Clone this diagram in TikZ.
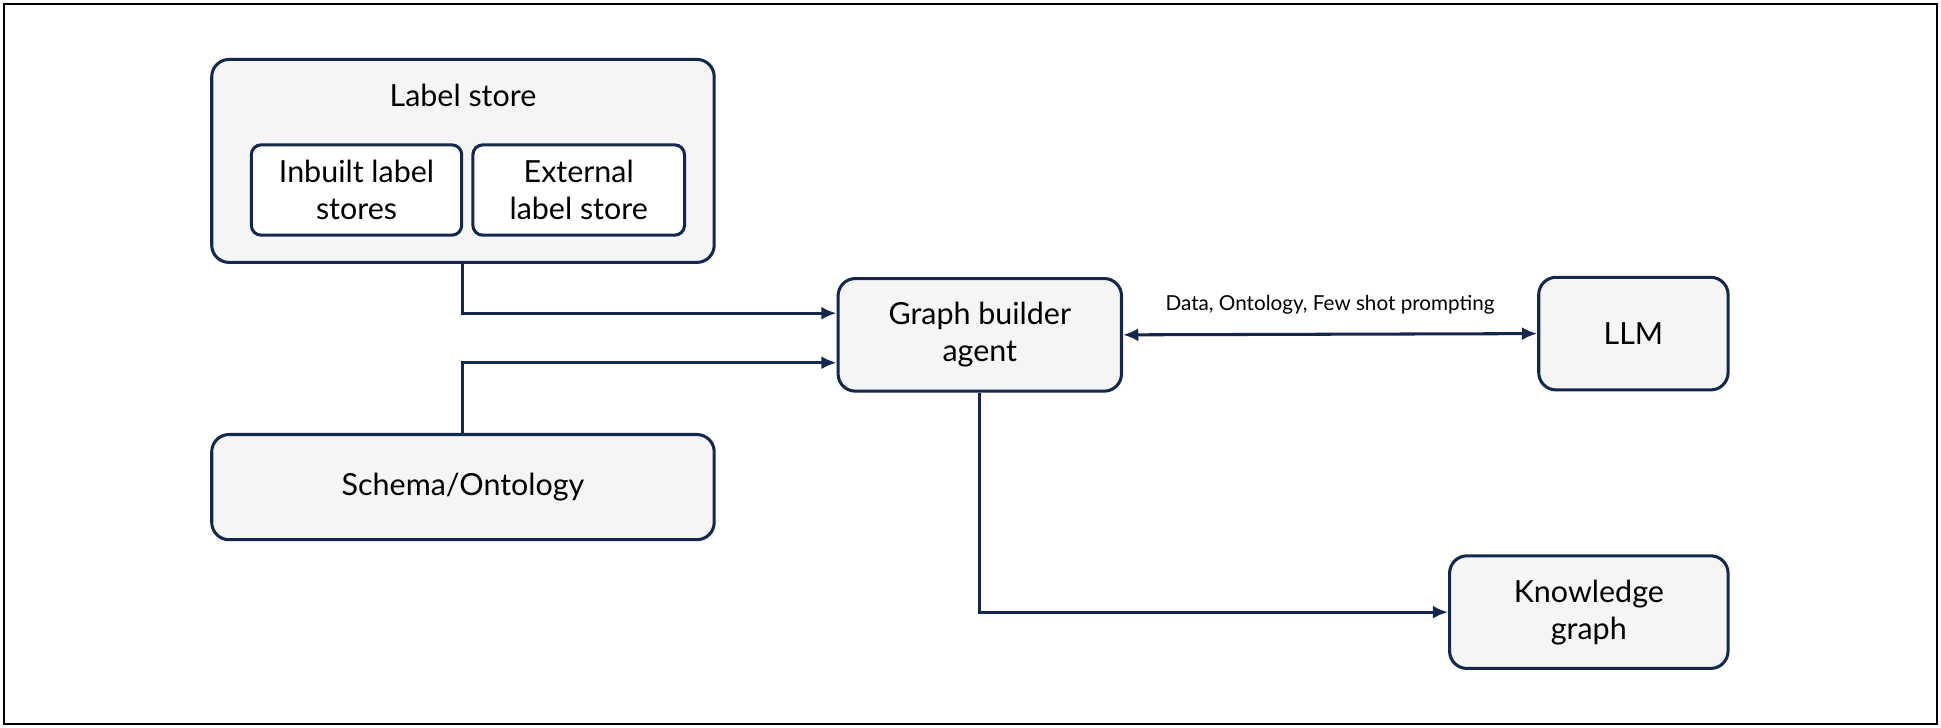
\documentclass[tikz,border=0pt]{standalone}
\usepackage{fontspec}
\setmainfont{Lato}
\usetikzlibrary{arrows.meta}
\definecolor{navy}{HTML}{14284B}
\definecolor{boxfill}{HTML}{F5F5F5}
\begin{document}
\begin{tikzpicture}[x=0.02cm,y=-0.02cm,
  box/.style={draw=navy,line width=1.4pt,fill=boxfill,rounded corners=0.28cm,align=center,font=\fontsize{14}{17}\selectfont,inner sep=2pt},
  ibox/.style={box,fill=white,rounded corners=0.16cm},
  arr/.style={draw=navy,line width=1.4pt,-{Latex[length=7pt,width=6pt]}},
  darr/.style={draw=navy,line width=1.4pt,{Latex[length=7pt,width=6pt]}-{Latex[length=7pt,width=6pt]}}]
\path[use as bounding box] (0,0) rectangle (1568,588);
\draw[line width=0.8pt] (3,3) rectangle (1565,585);
\node[box,minimum width=8.12cm,minimum height=3.28cm] (ls) at (374,130) {};
\node[font=\fontsize{14}{17}\selectfont] (lst) at (374,77) {Label store};
\node[ibox,minimum width=3.4cm,minimum height=1.46cm] (ib) at (288,153.5) {Inbuilt label\\stores};
\node[ibox,minimum width=3.42cm,minimum height=1.46cm] (eb) at (467.5,153.5) {External\\label store};
\node[box,minimum width=8.12cm,minimum height=1.7cm] (sc) at (374,393.5) {Schema/Ontology};
\node[box,minimum width=4.58cm,minimum height=1.82cm] (gb) at (791.5,270.5) {Graph builder\\agent};
\node[box,minimum width=3.06cm,minimum height=1.82cm] (llm) at (1319.5,269.5) {LLM};
\node[box,minimum width=4.5cm,minimum height=1.82cm] (kg) at (1283.5,494.5) {Knowledge\\graph};
\draw[arr] (ls.south) |- ([yshift=0.35cm]gb.west);
\draw[arr] (sc.north) |- ([yshift=-0.45cm]gb.west);
\draw[darr] (gb.east) -- (llm.west) node[midway,above=5pt,font=\fontsize{9.5}{11}\selectfont] (dl) {Data, Ontology, Few shot prompting};
\draw[arr] (gb.south) |- (kg.west);
\end{tikzpicture}
\end{document}
